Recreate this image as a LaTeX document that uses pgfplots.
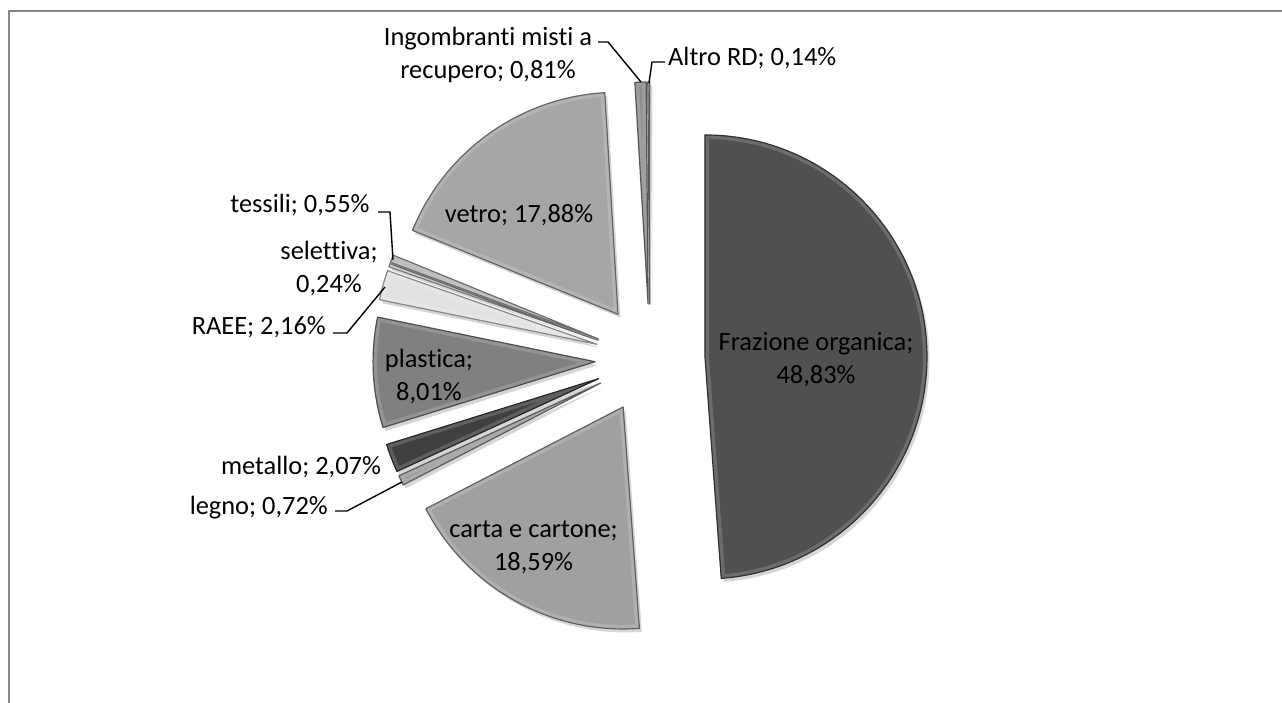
\documentclass[border=0pt]{standalone}
\usepackage{pgfplots}
\pgfplotsset{compat=1.18}
\usepackage{pgfplotstable}
\usepackage{fontspec}
\setmainfont{Carlito}[Ligatures=NoCommon]

\definecolor{frame}{HTML}{868686}
\definecolor{sorg}{HTML}{505050}
\definecolor{scar}{HTML}{A0A0A0}
\definecolor{sleg}{HTML}{9A9A9A}
\definecolor{smet}{HTML}{404040}
\definecolor{spla}{HTML}{808080}
\definecolor{srae}{HTML}{E2E2E2}
\definecolor{ssel}{HTML}{C8C8C8}
\definecolor{stes}{HTML}{B4B4B4}
\definecolor{svet}{HTML}{A6A6A6}
\definecolor{sing}{HTML}{8C8C8C}
\definecolor{salt}{HTML}{9A9A9A}

% slices in clockwise order from 12 o'clock
\pgfplotstableread{
key value col
organica 48.83 sorg
carta 18.59 scar
legno 0.72 sleg
metallo 2.07 smet
plastica 8.01 spla
raee 2.16 srae
selettiva 0.24 ssel
tessili 0.55 stes
vetro 17.88 svet
ingombranti 0.81 sing
altro 0.14 salt
}\piedata

\begin{document}
\fontsize{26.4pt}{33pt}\selectfont
\begin{tikzpicture}
\begin{axis}[x=1pt,y=1pt,xmin=0,xmax=1282,ymin=0,ymax=703,hide axis,clip=true]
\fill[white] (axis cs:0,0) rectangle (axis cs:1282,703);
\draw[color=frame, line width=2pt] (axis cs:8.5,0) -- (axis cs:8.5,692) -- (axis cs:1282,692);
\gdef\cum{0}
\pgfplotsinvokeforeach{0,...,10}{%
  \pgfplotstablegetelem{#1}{value}\of\piedata \let\sliceval\pgfplotsretval
  \pgfplotstablegetelem{#1}{col}\of\piedata \let\slicecol\pgfplotsretval
  \pgfmathsetmacro\sa{90-3.6*\cum}
  \pgfmathsetmacro\ea{\sa-3.6*\sliceval}
  \pgfmathsetmacro\ma{(\sa+\ea)/2}
  \pgfmathsetmacro\apx{650+55*cos(\ma)}
  \pgfmathsetmacro\apy{344+55*sin(\ma)}
  \pgfmathsetmacro\newcum{\cum+\sliceval}
  \xdef\cum{\newcum}
  \edef\temp{%
    \noexpand\fill[black,opacity=0.16] ([shift={(2.5pt,-3.5pt)}]axis cs:\apx,\apy) -- ++(\sa:222pt) arc[start angle=\sa,end angle=\ea,radius=222pt] -- cycle;
    \noexpand\fill[fill=\slicecol] (axis cs:\apx,\apy) -- ++(\sa:222pt) arc[start angle=\sa,end angle=\ea,radius=222pt] -- cycle;
    \noexpand\begin{scope}
    \noexpand\clip (axis cs:\apx,\apy) -- ++(\sa:222pt) arc[start angle=\sa,end angle=\ea,radius=222pt] -- cycle;
    \noexpand\draw[draw=\slicecol!70!white,line width=8pt,line join=round,opacity=0.55] (axis cs:\apx,\apy) -- ++(\sa:222pt) arc[start angle=\sa,end angle=\ea,radius=222pt] -- cycle;
    \noexpand\end{scope}
    \noexpand\draw[draw=\slicecol!60!black,line width=1.2pt,line join=round] (axis cs:\apx,\apy) -- ++(\sa:222pt) arc[start angle=\sa,end angle=\ea,radius=222pt] -- cycle;
  }\temp
}

% labels
\begin{scope}[every node/.style={inner sep=0pt,align=center,text=black}]
\node at (axis cs:816,343) {Frazione organica;\\48,83\%};
\node at (axis cs:533.5,155.5) {carta e cartone;\\18,59\%};
\node at (axis cs:519,488) {vetro; 17,88\%};
\node at (axis cs:429,326) {plastica;\\8,01\%};
\node at (axis cs:301,236) {metallo; 2,07\%};
\node[anchor=east] at (axis cs:328,195) {legno; 0,72\%};
\node[anchor=east] at (axis cs:326,376) {RAEE; 2,16\%};
\node at (axis cs:329,434.5) {selettiva;\\0,24\%};
\node at (axis cs:300,498) {tessili; 0,55\%};
\node at (axis cs:488,648) {Ingombranti misti a\\recupero; 0,81\%};
\node[anchor=west] at (axis cs:668,645) {Altro RD; 0,14\%};
\end{scope}

% leader lines
\begin{scope}[line width=1.4pt,black]
\draw (axis cs:598,661) -- (axis cs:608,661) -- (axis cs:641,621);
\draw (axis cs:665,641) -- (axis cs:652,641) -- (axis cs:649,620);
\draw (axis cs:378,491) -- (axis cs:390,491) -- (axis cs:393,443);
\draw (axis cs:333,370) -- (axis cs:347,370) -- (axis cs:385,416);
\draw (axis cs:335,192) -- (axis cs:347,192) -- (axis cs:402,221);
\end{scope}
\end{axis}
\end{tikzpicture}
\end{document}
